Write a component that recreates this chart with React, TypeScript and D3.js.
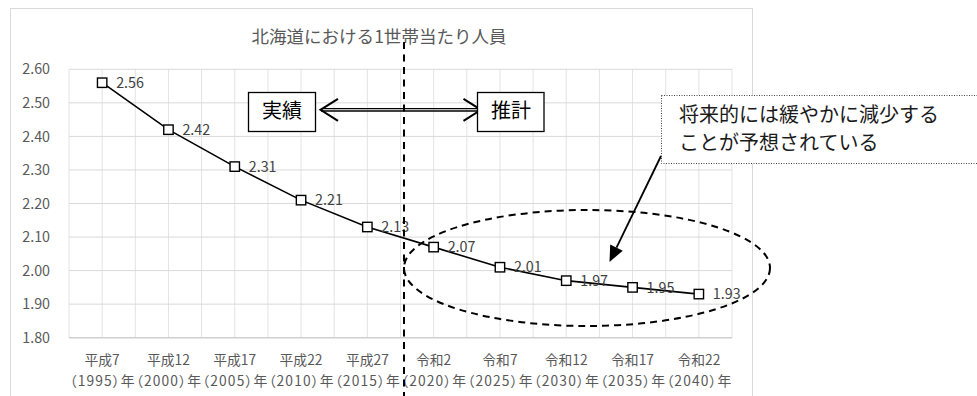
import React from "react";
import * as d3 from "d3";

// 北海道における1世帯当たり人員（実績・推計）
const eras = ["平成7", "平成12", "平成17", "平成22", "平成27", "令和2", "令和7", "令和12", "令和17", "令和22"];
const years = ["（1995）年", "（2000）年", "（2005）年", "（2010）年", "（2015）年", "（2020）年", "（2025）年", "（2030）年", "（2035）年", "（2040）年"];
const persons = [2.56, 2.42, 2.31, 2.21, 2.13, 2.07, 2.01, 1.97, 1.95, 1.93];
const yTicks = [1.8, 1.9, 2.0, 2.1, 2.2, 2.3, 2.4, 2.5, 2.6];

const W = 977;
const H = 396;
const FONT = "'Noto Sans CJK JP', 'Noto Sans', sans-serif";

export default function App() {
  const plot = { left: 69, right: 732, top: 69.3, bottom: 337.7 };
  const x = d3.scaleBand<string>().domain(eras).range([plot.left, plot.right]).padding(0);
  const y = d3.scaleLinear().domain([1.8, 2.6]).range([plot.bottom, plot.top]);
  const bw = x.bandwidth();
  const cx = (i: number) => (x(eras[i]) as number) + bw / 2;

  const pts: [number, number][] = persons.map((v, i) => [cx(i), y(v)]);
  const linePath = d3.line()(pts) as string;

  // vertical grid at band edges and band centres
  const vGrid: number[] = [];
  eras.forEach((e) => {
    const s = x(e) as number;
    vGrid.push(s, s + bw / 2);
  });
  vGrid.push(plot.right);

  // callout arrow geometry
  const a0: [number, number] = [661, 156];
  const a1: [number, number] = [609.5, 262];
  const ang = Math.atan2(a1[1] - a0[1], a1[0] - a0[0]);
  const headLen = 16;
  const headHalf = 7;
  const base: [number, number] = [a1[0] - headLen * Math.cos(ang), a1[1] - headLen * Math.sin(ang)];
  const perp = [-Math.sin(ang), Math.cos(ang)];
  const head = [
    a1,
    [base[0] + perp[0] * headHalf, base[1] + perp[1] * headHalf],
    [base[0] - perp[0] * headHalf, base[1] - perp[1] * headHalf],
  ]
    .map((p) => p.join(","))
    .join(" ");

  const arrowY = 109.8;
  const divX = 404;

  return (
    <div style={{ position: "absolute", left: 0, top: 0 }}>
      <svg width={W} height={H} style={{ display: "block", fontFamily: FONT }}>
        <rect x={0} y={0} width={W} height={H} fill="#ffffff" />
        {/* chart area frame */}
        <rect x={10.5} y={8.5} width={742} height={420} fill="#ffffff" stroke="#d9d9d9" strokeWidth={1} />

        {/* gridlines */}
        {vGrid.map((gx, i) => (
          <line key={"v" + i} x1={gx} x2={gx} y1={plot.top} y2={plot.bottom} stroke="#e3e3e3" strokeWidth={1} />
        ))}
        {yTicks.slice(1).map((t) => (
          <line key={"h" + t} x1={plot.left} x2={plot.right} y1={y(t)} y2={y(t)} stroke="#d9d9d9" strokeWidth={1} />
        ))}
        <line x1={plot.left} x2={plot.right} y1={y(1.8)} y2={y(1.8)} stroke="#d0d0d0" strokeWidth={1.6} />

        {/* y tick labels */}
        {yTicks.map((t) => (
          <text key={"yt" + t} x={50} y={y(t)} dy="0.36em" textAnchor="end" fontSize={14.3} fill="#595959">
            {t.toFixed(2)}
          </text>
        ))}

        {/* x category labels */}
        {eras.map((e, i) => (
          <g key={"xl" + e}>
            <text x={cx(i)} y={365} textAnchor="middle" fontSize={13.8} fill="#595959">
              {e}
            </text>
            <text
              x={cx(i)}
              y={385.5}
              textAnchor="middle"
              fontSize={13.8}
              fill="#595959"
              style={{ fontFeatureSettings: "'palt'" }}
              textLength={65}
              lengthAdjust="spacing"
            >
              {years[i]}
            </text>
          </g>
        ))}

        {/* title */}
        <text x={379} y={43} textAnchor="middle" fontSize={17} fill="#595959" textLength={255} lengthAdjust="spacingAndGlyphs">
          北海道における1世帯当たり人員
        </text>

        {/* series */}
        <path d={linePath} fill="none" stroke="#000" strokeWidth={1.6} />
        {pts.map(([px, py], i) => (
          <rect key={"m" + i} x={px - 4.7} y={py - 4.7} width={9.4} height={9.4} fill="#fff" stroke="#000" strokeWidth={1.4} />
        ))}
        {pts.map(([px, py], i) => (
          <text key={"dl" + i} x={px + 14} y={py} dy="0.36em" fontSize={14.3} fill="#404040">
            {persons[i].toFixed(2)}
          </text>
        ))}

        {/* forecast ellipse */}
        <ellipse cx={587} cy={268} rx={183} ry={58} fill="none" stroke="#000" strokeWidth={2} strokeDasharray="7 5" />

        {/* divider between actual and projection */}
        <line x1={divX} x2={divX} y1={42} y2={H} stroke="#000" strokeWidth={2} strokeDasharray="7 5.5" />

        {/* double-headed arrow */}
        <line x1={321} x2={480} y1={arrowY - 1.2} y2={arrowY - 1.2} stroke="#000" strokeWidth={1.3} />
        <line x1={321} x2={480} y1={arrowY + 1.2} y2={arrowY + 1.2} stroke="#000" strokeWidth={1.3} />
        <polyline points={`338,${arrowY - 11} 320.5,${arrowY} 338,${arrowY + 11}`} fill="none" stroke="#000" strokeWidth={2} />
        <polyline points={`463.5,${arrowY - 11} 481,${arrowY} 463.5,${arrowY + 11}`} fill="none" stroke="#000" strokeWidth={2} />

        {/* period boxes */}
        <rect x={248.5} y={92.5} width={67} height={39} fill="#fff" stroke="#000" strokeWidth={1.3} />
        <text x={282} y={117.5} textAnchor="middle" fontSize={20} fill="#000">
          実績
        </text>
        <rect x={477.5} y={92.5} width={66.5} height={39} fill="#fff" stroke="#000" strokeWidth={1.3} />
        <text x={511} y={117.5} textAnchor="middle" fontSize={20} fill="#000">
          推計
        </text>

        {/* callout */}
        <rect x={661.5} y={95.5} width={340} height={68} fill="#fff" stroke="#404040" strokeWidth={1} strokeDasharray="1 1.5" />
        <text x={679} y={121.5} fontSize={20} fill="#1a1a1a">
          将来的には緩やかに減少する
        </text>
        <text x={679} y={150} fontSize={20} fill="#1a1a1a">
          ことが予想されている
        </text>
        <line x1={a0[0]} y1={a0[1]} x2={base[0]} y2={base[1]} stroke="#000" strokeWidth={1.8} />
        <polygon points={head} fill="#000" />
      </svg>
    </div>
  );
}
